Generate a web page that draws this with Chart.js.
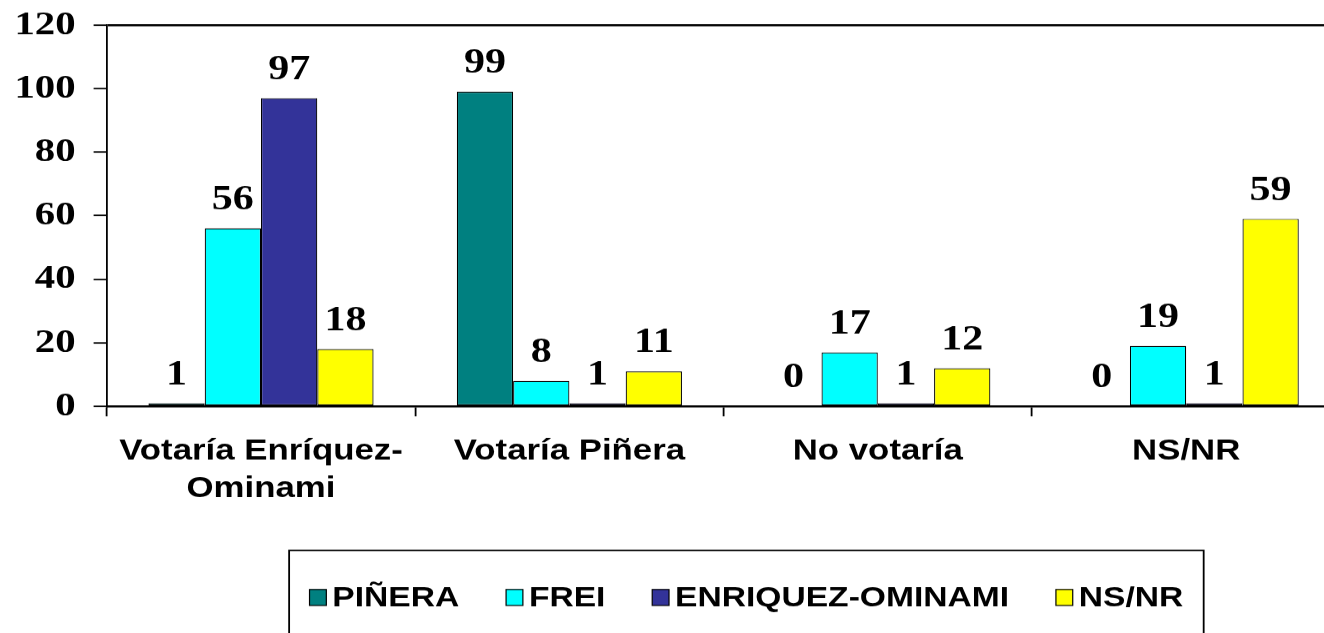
<html lang="es">
  <head>
    <meta charset="utf-8" />
    <title>Votaría en segunda vuelta</title>
    <style>
      * {
        padding: 0;
        margin: 0;
        box-sizing: border-box;
      }
      body {
        background: #ffffff;
        overflow: hidden;
      }
      .wrapper {
        position: relative;
        width: 1324px;
        height: 633px;
        overflow: hidden;
      }
    </style>
  </head>
  <body>
    <div class="wrapper">
      <!-- the original is stretched sideways: drawn 1117 wide, shown 1340 wide (right edge cut off) -->
      <canvas id="chart" width="1117" height="633" style="display:block;width:1340px;height:633px"></canvas>
    </div>
    <script src="https://cdn.jsdelivr.net/npm/chart.js@4.4.1/dist/chart.umd.min.js"></script>
    <script>
      const categories = [
        ["Votaría Enríquez-", "Ominami"],
        "Votaría Piñera",
        "No votaría",
        "NS/NR"
      ];
      const seriesNames = ["PIÑERA", "FREI", "ENRIQUEZ-OMINAMI", "NS/NR"];
      const pinera = [1, 99, 0, 0];
      const frei = [56, 8, 17, 19];
      const enriquez = [97, 1, 1, 1];
      const nsnr = [18, 11, 12, 59];
      const yTicks = [0, 20, 40, 60, 80, 100, 120];

      const seriesValues = [pinera, frei, enriquez, nsnr];
      const seriesColors = ["#008080", "#00ffff", "#333399", "#ffff00"];

      // numbers on top of each bar
      const valueLabels = {
        id: "valueLabels",
        afterDatasetsDraw(chart) {
          const ctx = chart.ctx;
          ctx.save();
          ctx.font = 'bold 35px "Liberation Serif"';
          ctx.fillStyle = "#000000";
          ctx.textAlign = "center";
          ctx.textBaseline = "alphabetic";
          chart.data.datasets.forEach((ds, i) => {
            chart.getDatasetMeta(i).data.forEach((bar, j) => {
              ctx.fillText(String(ds.data[j]), bar.x, bar.y - 19);
            });
          });
          ctx.restore();
        }
      };

      // legend inside a framed box under the axis
      const boxedLegend = {
        id: "boxedLegend",
        afterDraw(chart) {
          const ctx = chart.ctx;
          const area = chart.chartArea;
          const boxW = 14, boxH = 16, gap = 5, space = 39;
          ctx.save();
          ctx.font = 'bold 28px "Liberation Sans"';
          const items = chart.data.datasets.map(ds => ({
            text: ds.label,
            color: ds.backgroundColor,
            w: boxW + gap + ctx.measureText(ds.label).width
          }));
          const total = items.reduce((s, it) => s + it.w, 0) + space * (items.length - 1);
          const cx = (area.left + area.right) / 2 + 19;
          const cy = 597;
          let x = cx - total / 2;

          ctx.strokeStyle = "#000000";
          ctx.lineWidth = 1.5;
          ctx.strokeRect(x - 17, 550, total + 34, 200);

          ctx.textAlign = "left";
          ctx.textBaseline = "alphabetic";
          items.forEach(it => {
            ctx.fillStyle = it.color;
            ctx.fillRect(x, cy - boxH / 2, boxW, boxH);
            ctx.lineWidth = 1;
            ctx.strokeRect(x, cy - boxH / 2, boxW, boxH);
            ctx.fillStyle = "#000000";
            ctx.fillText(it.text, x + boxW + gap, 606);
            x += it.w + space;
          });
          ctx.restore();
        }
      };

      const chart = new Chart(document.getElementById("chart"), {
        type: "bar",
        data: {
          labels: categories,
          datasets: seriesNames.map((name, i) => ({
            label: name,
            data: seriesValues[i],
            backgroundColor: seriesColors[i],
            borderColor: "#000000",
            borderWidth: 1,
            borderSkipped: false,
            categoryPercentage: 0.73,
            barPercentage: 1
          }))
        },
        plugins: [valueLabels, boxedLegend],
        options: {
          responsive: false,
          devicePixelRatio: 1.2,
          animation: false,
          layout: {
            padding: { top: 25, right: 0, bottom: 0, left: 0 }
          },
          plugins: {
            legend: { display: false },
            tooltip: { enabled: false }
          },
          scales: {
            x: {
              offset: true,
              grid: {
                offset: true,
                color: "rgba(0,0,0,0)",
                tickColor: "#000000",
                tickLength: 10,
                tickWidth: 1.5
              },
              border: { color: "#000000", width: 2 },
              ticks: {
                color: "#000000",
                padding: 16,
                maxRotation: 0,
                autoSkip: false,
                font: { family: "Liberation Sans", weight: "bold", size: 29, lineHeight: 1.31 }
              },
              afterFit(scale) {
                scale.height = 227;
              }
            },
            y: {
              min: 0,
              max: 120,
              afterBuildTicks(scale) {
                scale.ticks = yTicks.map(v => ({ value: v }));
              },
              grid: {
                color: ctx => (ctx.tick && ctx.tick.value === 120 ? "#000000" : "rgba(0,0,0,0)"),
                lineWidth: 2,
                tickColor: "#000000",
                tickLength: 11,
                tickWidth: 1.5
              },
              border: { color: "#000000", width: 1.5 },
              ticks: {
                color: "#000000",
                padding: 15,
                font: { family: "Liberation Serif", weight: "bold", size: 34 }
              },
              afterFit(scale) {
                scale.width = 89;
                scale.paddingTop = 0;
                scale.paddingBottom = 0;
              }
            }
          }
        }
      });
    </script>
  </body>
</html>
